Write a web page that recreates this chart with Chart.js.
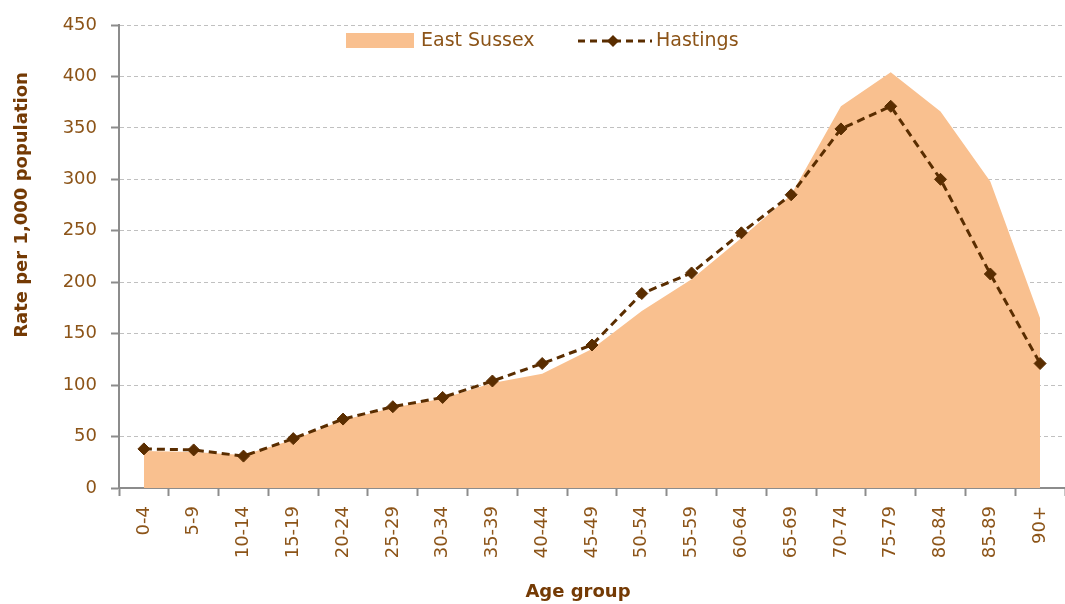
<!DOCTYPE html>
<html>
<head>
<meta charset="utf-8">
<script src="https://cdn.jsdelivr.net/npm/chart.js@4"></script>
<style>
  html, body { margin: 0; padding: 0; background: #fff; }
  #wrap { width: 1065px; height: 604px; position: relative; }
</style>
</head>
<body>
<div id="wrap"><canvas id="chart" width="1065" height="604"></canvas></div>
<script>
const ageGroups = ['0-4', '5-9', '10-14', '15-19', '20-24', '25-29', '30-34', '35-39', '40-44',
  '45-49', '50-54', '55-59', '60-64', '65-69', '70-74', '75-79', '80-84', '85-89', '90+'];
const eastSussex = [36, 35, 32, 47, 66, 78, 87, 102, 111, 135, 172, 203, 243, 285, 371, 404, 366, 298, 165];
const hastings = [38, 37, 31, 48, 67, 79, 88, 104, 121, 139, 189, 209, 248, 285, 349, 371, 300, 208, 121];
const yTicks = [0, 50, 100, 150, 200, 250, 300, 350, 400, 450];

const AREA = '#f9c08f';
const LINE = '#5a2d00';
const TICK_TXT = '#8c5418';
const TITLE_TXT = '#743a04';
const FONT = '"DejaVu Sans", Verdana, sans-serif';

// legend and axis titles drawn on top, placed like the original
const extras = {
  id: 'extras',
  afterDraw(chart) {
    const ctx = chart.ctx;
    ctx.save();
    // y title
    ctx.fillStyle = TITLE_TXT;
    ctx.font = 'bold 18px ' + FONT;
    ctx.textAlign = 'center';
    ctx.textBaseline = 'middle';
    ctx.translate(22, 205);
    ctx.rotate(-Math.PI / 2);
    ctx.fillText('Rate per 1,000 population', 0, 0);
    ctx.restore();

    ctx.save();
    ctx.fillStyle = TITLE_TXT;
    ctx.font = 'bold 18px ' + FONT;
    ctx.textAlign = 'center';
    ctx.textBaseline = 'middle';
    ctx.fillText('Age group', 578, 592);

    // legend
    ctx.fillStyle = AREA;
    ctx.fillRect(346, 33, 68, 15);
    ctx.font = '19px ' + FONT;
    ctx.textAlign = 'left';
    ctx.fillStyle = TICK_TXT;
    ctx.fillText('East Sussex', 421, 41);
    ctx.strokeStyle = LINE;
    ctx.lineWidth = 3;
    ctx.setLineDash([7, 5]);
    ctx.beginPath();
    ctx.moveTo(578, 41);
    ctx.lineTo(652, 41);
    ctx.stroke();
    ctx.setLineDash([]);
    ctx.fillStyle = LINE;
    ctx.beginPath();
    ctx.moveTo(613, 35); ctx.lineTo(619, 41); ctx.lineTo(613, 47); ctx.lineTo(607, 41);
    ctx.closePath();
    ctx.fill();
    ctx.fillStyle = TICK_TXT;
    ctx.fillText('Hastings', 656, 41);
    ctx.restore();
  }
};

new Chart(document.getElementById('chart').getContext('2d'), {
  type: 'line',
  plugins: [extras],
  data: {
    labels: ageGroups,
    datasets: [{
      label: 'East Sussex',
      data: eastSussex,
      fill: 'origin',
      backgroundColor: AREA,
      borderWidth: 0,
      pointRadius: 0,
      tension: 0,
      order: 2
    }, {
      label: 'Hastings',
      data: hastings,
      fill: false,
      borderColor: LINE,
      borderWidth: 3,
      borderDash: [8, 5],
      pointStyle: 'rectRot',
      pointRadius: 6,
      pointBackgroundColor: LINE,
      pointBorderColor: LINE,
      pointBorderWidth: 1,
      tension: 0,
      order: 1
    }]
  },
  options: {
    responsive: false,
    animation: false,
    layout: { autoPadding: false, padding: { top: 25, right: 0, left: 0, bottom: 0 } },
    plugins: {
      legend: { display: false },
      tooltip: { enabled: false }
    },
    scales: {
      x: {
        offset: true,
        grid: { offset: true, drawOnChartArea: false, drawTicks: true, tickLength: 8, color: '#8c8c8c', tickWidth: 2 },
        border: { display: true, color: '#8c8c8c', width: 2 },
        ticks: {
          color: TICK_TXT,
          font: { family: FONT, size: 18 },
          minRotation: 90,
          maxRotation: 90,
          padding: 10,
          autoSkip: false
        },
        afterFit(scale) {
          scale.height = 116;
          scale.paddingLeft = 0;
          scale.paddingRight = 0;
        }
      },
      y: {
        min: 0,
        max: 450,
        afterBuildTicks(scale) { scale.ticks = yTicks.map(v => ({ value: v })); },
        grid: { color: '#c0c0c0', lineWidth: 1, tickLength: 8, tickColor: '#8c8c8c', tickWidth: 2 },
        border: { display: true, color: '#8c8c8c', width: 2, dash: [4, 3] },
        ticks: {
          color: TICK_TXT,
          font: { family: FONT, size: 18 },
          padding: 14
        },
        afterFit(scale) { scale.width = 119; }
      }
    }
  }
});
</script>
</body>
</html>
